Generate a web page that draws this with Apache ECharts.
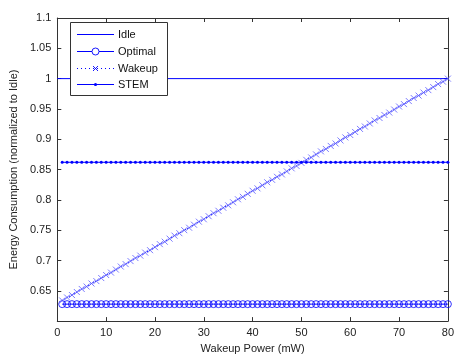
<!DOCTYPE html>
<html><head><meta charset="utf-8">
<script src="https://cdn.jsdelivr.net/npm/echarts@6/dist/echarts.min.js"></script>
<style>html,body{margin:0;padding:0;background:#fff}#c{width:457px;height:359px}</style>
</head><body><div id="c"></div>
<script>
var xPower = [1,2,3,4,5,6,7,8,9,10,11,12,13,14,15,16,17,18,19,20,21,22,23,24,25,26,27,28,29,30,31,32,33,34,35,36,37,38,39,40,41,42,43,44,45,46,47,48,49,50,51,52,53,54,55,56,57,58,59,60,61,62,63,64,65,66,67,68,69,70,71,72,73,74,75,76,77,78,79,80];
var idleX = [0, 80];
var idleVals = [1, 1];
var optimalVal = 0.628;
var stemVal = 0.862;
var wakeupVals = [0.634,0.639,0.643,0.648,0.653,0.657,0.662,0.666,0.671,0.676,0.680,0.685,0.690,0.694,0.699,0.704,0.708,0.713,0.717,0.722,0.727,0.731,0.736,0.741,0.745,0.750,0.754,0.759,0.764,0.768,0.773,0.778,0.782,0.787,0.791,0.796,0.801,0.805,0.810,0.815,0.819,0.824,0.829,0.833,0.838,0.842,0.847,0.852,0.856,0.861,0.866,0.870,0.875,0.880,0.884,0.889,0.893,0.898,0.903,0.907,0.912,0.917,0.921,0.926,0.931,0.935,0.940,0.944,0.949,0.954,0.958,0.963,0.968,0.972,0.977,0.981,0.986,0.991,0.995,1.000];
var xTicks = [0,10,20,30,40,50,60,70,80];
var yTicks = [0.65,0.7,0.75,0.8,0.85,0.9,0.95,1,1.05,1.1];
var seriesNames = ['Idle','Optimal','Wakeup','STEM'];

var blue = '#0000ff';
var font = 'Liberation Sans, Arial, sans-serif';
var optimalData = xPower.map(function(x){return [x, optimalVal];});
var stemData = xPower.map(function(x){return [x, stemVal];});
var wakeupData = xPower.map(function(x,i){return [x, wakeupVals[i]];});
var idleData = idleX.map(function(x,i){return [x, idleVals[i]];});

var chart = echarts.init(document.getElementById('c'));
var axisCol = '#333';
function xAx(pos, labels){
  return {type:'value', position:pos, min:0, max:80, interval:10,
    axisLine:{show:true, onZero:false, lineStyle:{color:axisCol, width:1}},
    axisTick:{show:true, inside:true, length:4, lineStyle:{color:axisCol}},
    axisLabel:{show:labels, color:'#222', fontFamily:font, fontSize:11, margin:6},
    splitLine:{show:false},
    name: labels ? 'Wakeup Power (mW)' : '', nameLocation:'middle', nameGap:16,
    nameTextStyle:{color:'#222', fontFamily:font, fontSize:11}};
}
function yAx(pos, labels){
  return {type:'value', position:pos, min:0.6, max:1.1, interval:0.05,
    axisLine:{show:true, onZero:false, lineStyle:{color:axisCol, width:1}},
    axisTick:{show:true, inside:true, length:4, lineStyle:{color:axisCol}},
    axisLabel:{show:labels, color:'#222', fontFamily:font, fontSize:11, margin:6,
      formatter:function(v){ return Math.abs(v-0.6)<1e-6 ? '' : String(+v.toFixed(2)); }},
    splitLine:{show:false},
    name: labels ? 'Energy Consumption (normalized to Idle)' : '', nameLocation:'middle', nameGap:34,
    nameTextStyle:{color:'#222', fontFamily:font, fontSize:11}};
}

// Legend drawn as graphic elements (box, sample lines, markers, labels)
var lgX = 70, lgY = 22, lgW = 97, lgH = 73;
var rowY = [34, 51, 68, 84];
var lx0 = 77, lx1 = 114, lmid = 95.5, tx = 118;
var g = [];
g.push({type:'rect', shape:{x:lgX+0.5, y:lgY+0.5, width:lgW, height:lgH},
        style:{fill:'#fff', stroke:'#333', lineWidth:1}, z:100});
// Idle: plain line
g.push({type:'line', shape:{x1:lx0, y1:rowY[0]+0.5, x2:lx1, y2:rowY[0]+0.5}, style:{stroke:blue, lineWidth:1}, z:101});
// Optimal: line + open circle
g.push({type:'line', shape:{x1:lx0, y1:rowY[1]+0.5, x2:lmid-3.5, y2:rowY[1]+0.5}, style:{stroke:blue, lineWidth:1}, z:101});
g.push({type:'line', shape:{x1:lmid+3.5, y1:rowY[1]+0.5, x2:lx1, y2:rowY[1]+0.5}, style:{stroke:blue, lineWidth:1}, z:101});
g.push({type:'circle', shape:{cx:lmid, cy:rowY[1]+0.5, r:3.5}, style:{fill:'none', stroke:blue, lineWidth:0.9}, z:101});
// Wakeup: dotted line + x
g.push({type:'line', shape:{x1:lx0, y1:rowY[2]+0.5, x2:lx1, y2:rowY[2]+0.5}, style:{stroke:blue, lineWidth:1, lineDash:[1,3]}, z:101});
g.push({type:'line', shape:{x1:lmid-2.5, y1:rowY[2]-2, x2:lmid+2.5, y2:rowY[2]+3}, style:{stroke:blue, lineWidth:0.9}, z:101});
g.push({type:'line', shape:{x1:lmid+2.5, y1:rowY[2]-2, x2:lmid-2.5, y2:rowY[2]+3}, style:{stroke:blue, lineWidth:0.9}, z:101});
// STEM: line + dot
g.push({type:'line', shape:{x1:lx0, y1:rowY[3]+0.5, x2:lx1, y2:rowY[3]+0.5}, style:{stroke:blue, lineWidth:1}, z:101});
g.push({type:'circle', shape:{cx:lmid, cy:rowY[3]+0.5, r:1.6}, style:{fill:blue}, z:101});
seriesNames.forEach(function(n, i){
  g.push({type:'text', x:tx, y:rowY[i]+0.5, z:101,
          style:{text:n, fill:'#111', font:'11px ' + font, textVerticalAlign:'middle', verticalAlign:'middle'}});
});

chart.setOption({
  animation:false,
  backgroundColor:'#fff',
  grid:{left:56, right:7, top:18, bottom:31},
  xAxis:[xAx('bottom', true), xAx('top', false)],
  yAxis:[yAx('left', true), yAx('right', false)],
  graphic:g,
  series:[
    {name:'Idle', type:'line', data:idleData, showSymbol:false, symbol:'none',
     lineStyle:{color:blue, width:1}, itemStyle:{color:blue}},
    {name:'Optimal', type:'line', data:optimalData, symbol:'circle', symbolSize:7, showSymbol:true,
     lineStyle:{color:blue, width:1},
     itemStyle:{color:'rgba(0,0,0,0)', borderColor:blue, borderWidth:0.8}},
    {name:'Wakeup', type:'line', data:wakeupData, symbol:'path://M0,0L10,10M10,0L0,10', symbolSize:6, showSymbol:true,
     lineStyle:{color:blue, width:1, type:'dotted'},
     itemStyle:{color:'rgba(0,0,0,0)', borderColor:'#5a5aff', borderWidth:0.8}},
    {name:'STEM', type:'line', data:stemData, symbol:'circle', symbolSize:3, showSymbol:true,
     lineStyle:{color:blue, width:1}, itemStyle:{color:blue}}
  ]
});
</script></body></html>
